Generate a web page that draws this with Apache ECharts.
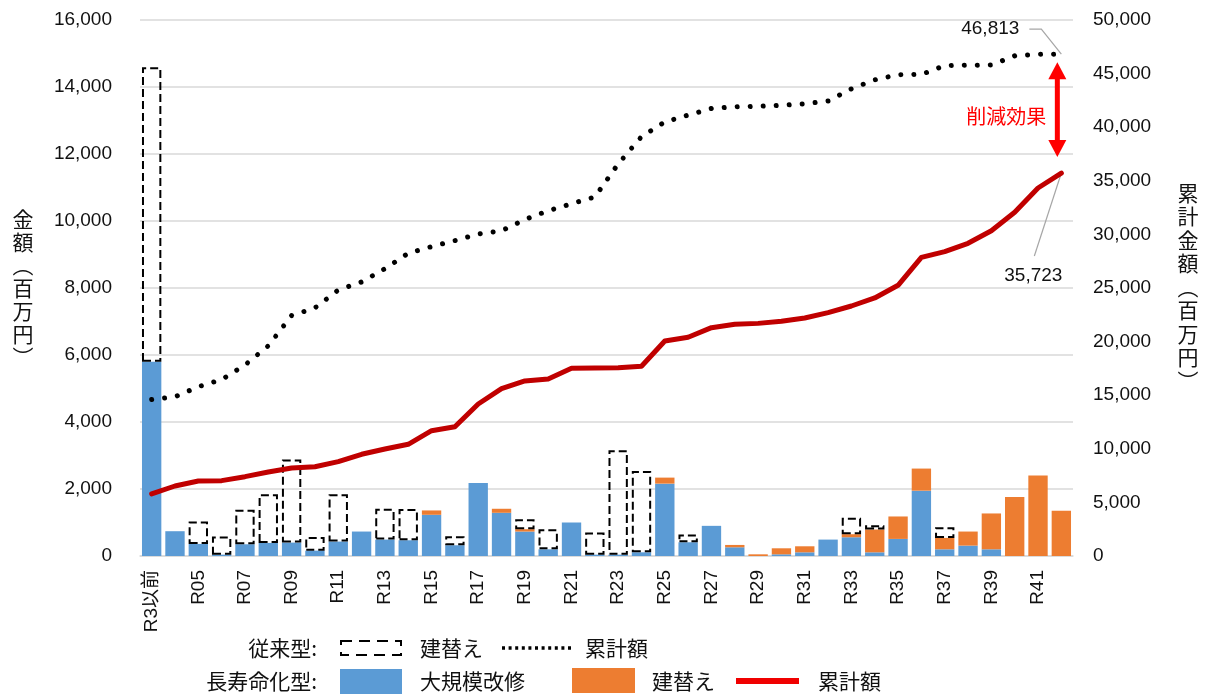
<!DOCTYPE html>
<html>
<head>
<meta charset="utf-8">
<title>施設更新費用の比較</title>
<script src="https://cdn.jsdelivr.net/npm/echarts@6/dist/echarts.min.js"></script>
<style>
  html, body { margin: 0; padding: 0; background: #ffffff; }
  #chart { width: 1209px; height: 695px; }
</style>
</head>
<body>
<div id="chart"></div>
<script>
// 年度区分
const categories = [
  'R3以前', 'R04', 'R05', 'R06', 'R07', 'R08', 'R09', 'R10', 'R11', 'R12',
  'R13', 'R14', 'R15', 'R16', 'R17', 'R18', 'R19', 'R20', 'R21', 'R22',
  'R23', 'R24', 'R25', 'R26', 'R27', 'R28', 'R29', 'R30', 'R31', 'R32',
  'R33', 'R34', 'R35', 'R36', 'R37', 'R38', 'R39', 'R40', 'R41', 'R42'
];

// 長寿命化型：大規模改修（百万円）
const renovation = [
  5800, 740, 360, 40, 350, 390, 400, 160, 430, 730,
  490, 470, 1230, 320, 2180, 1290, 730, 200, 1000, 40,
  40, 110, 2160, 410, 900, 260, 0, 50, 110, 490,
  560, 110, 510, 1950, 200, 310, 200, 0, 0, 0
];

// 長寿命化型：建替え（百万円）
const rebuildLongLife = [
  0, 0, 0, 0, 0, 0, 0, 0, 0, 0,
  0, 0, 130, 0, 0, 120, 70, 0, 0, 0,
  0, 0, 180, 0, 0, 70, 50, 180, 180, 0,
  90, 680, 670, 660, 340, 420, 1070, 1760, 2400, 1350
];

// 従来型：建替え（百万円、積み上げの最上段）
const rebuildConventional = [
  8790, null, 670, 540, 1030, 1450, 2480, 410, 1410, null,
  920, 930, null, 270, null, null, 300, 600, null, 660,
  3120, 2430, null, 230, null, null, null, null, null, null,
  490, 130, null, null, 320, null, null, null, null, null
];

// 従来型：累計額（百万円）
const cumulativeConventional = [
  14600, 14850, 15790, 16460, 17810, 19610, 22430, 23140, 24810, 25560,
  26800, 28250, 28860, 29420, 30040, 30340, 31390, 32210, 32860, 33490,
  36570, 39120, 40490, 41130, 41750, 41900, 41950, 42040, 42180, 42440,
  43580, 44420, 44900, 44920, 45740, 45780, 45800, 46650, 46800, 46813
];

// 長寿命化型：累計額（百万円）
const cumulativeLongLife = [
  5790, 6530, 7000, 7030, 7400, 7830, 8210, 8330, 8800, 9490,
  9980, 10420, 11690, 12060, 14180, 15610, 16330, 16510, 17510, 17540,
  17570, 17700, 20050, 20400, 21300, 21610, 21700, 21890, 22200, 22700,
  23320, 24070, 25250, 27860, 28390, 29170, 30340, 32060, 34330, 35723
];

// 軸目盛り
const amountTicks = { min: 0, max: 16000, step: 2000 };
const cumulativeTicks = { min: 0, max: 50000, step: 5000 };

const BLUE = '#5B9BD5';
const ORANGE = '#ED7D31';
const DARK_RED = '#C00000';
const FONT = "'Liberation Sans', Arial, 'Noto Sans CJK JP', sans-serif";
const JP_FONT = "'Noto Sans CJK JP', 'Liberation Sans', sans-serif";

const fmt = v => Number(v).toLocaleString('en-US');

const chart = echarts.init(document.getElementById('chart'), null, { renderer: 'canvas' });

chart.setOption({
  animation: false,
  backgroundColor: '#ffffff',
  textStyle: { fontFamily: FONT },
  grid: { left: 140, right: 136, top: 20, bottom: 139, containLabel: false },
  xAxis: {
    type: 'category',
    data: categories,
    axisTick: { show: false },
    axisLine: { show: true, lineStyle: { color: '#D9D9D9', width: 1.5 } },
    axisLabel: {
      interval: 1,
      rotate: 90,
      margin: 14,
      fontSize: 19,
      color: '#111111',
      fontFamily: FONT
    }
  },
  yAxis: [
    {
      type: 'value',
      min: amountTicks.min,
      max: amountTicks.max,
      interval: amountTicks.step,
      axisLine: { show: false },
      axisTick: { show: false },
      splitLine: { show: true, lineStyle: { color: '#D9D9D9', width: 1.5 } },
      axisLabel: { fontSize: 19, color: '#111111', margin: 28, formatter: fmt, fontFamily: FONT }
    },
    {
      type: 'value',
      min: cumulativeTicks.min,
      max: cumulativeTicks.max,
      interval: cumulativeTicks.step,
      axisLine: { show: false },
      axisTick: { show: false },
      splitLine: { show: false },
      axisLabel: { fontSize: 19, color: '#111111', margin: 20, formatter: fmt, fontFamily: FONT }
    }
  ],
  series: [
    {
      name: '長寿命化型 大規模改修',
      type: 'bar',
      stack: 'cost',
      barCategoryGap: '17%',
      data: renovation,
      itemStyle: { color: BLUE },
      z: 2
    },
    {
      name: '長寿命化型 建替え',
      type: 'bar',
      stack: 'cost',
      barCategoryGap: '17%',
      data: rebuildLongLife,
      itemStyle: { color: ORANGE },
      z: 2
    },
    {
      name: '従来型 建替え',
      type: 'bar',
      stack: 'cost',
      barCategoryGap: '17%',
      data: rebuildConventional,
      itemStyle: {
        color: 'rgba(0,0,0,0)',
        borderColor: '#000000',
        borderWidth: 2,
        borderType: [8, 4]
      },
      z: 3
    },
    {
      name: '従来型 累計額',
      type: 'line',
      yAxisIndex: 1,
      data: cumulativeConventional,
      symbol: 'none',
      lineStyle: { color: '#000000', width: 5, type: [0.01, 13], cap: 'round' },
      z: 4
    },
    {
      name: '長寿命化型 累計額',
      type: 'line',
      yAxisIndex: 1,
      data: cumulativeLongLife,
      symbol: 'none',
      lineStyle: { color: DARK_RED, width: 5, join: 'round', cap: 'round' },
      z: 5
    }
  ]
});

// 注記・凡例・軸タイトル
function drawOverlay() {
  const last = categories.length - 1;
  const pConv = chart.convertToPixel({ xAxisIndex: 0, yAxisIndex: 1 }, [last, cumulativeConventional[last]]);
  const pLong = chart.convertToPixel({ xAxisIndex: 0, yAxisIndex: 1 }, [last, cumulativeLongLife[last]]);
  const arrowX = pConv[0] - 4;
  const topTip = pConv[1] + 8;
  const bottomTip = pLong[1] - 16;
  const headH = 17, headW = 9;
  const gray = '#A6A6A6';

  const textEl = (x, y, text, opts) => ({
    type: 'text',
    x, y,
    silent: true,
    style: Object.assign({
      text,
      fill: '#111111',
      font: '21px ' + JP_FONT,
      align: 'left',
      verticalAlign: 'middle'
    }, opts || {})
  });

  const elements = [
    // 軸タイトル（縦書き）
    textEl(23, 288, '金\n額\n︵\n百\n万\n円\n︶', { align: 'center', font: '21px ' + JP_FONT, lineHeight: 23 }),
    textEl(1188, 287, '累\n計\n金\n額\n︵\n百\n万\n円\n︶', { align: 'center', font: '21px ' + JP_FONT, lineHeight: 23.5 }),

    // 最終年度の累計額ラベル
    textEl(pConv[0] - 42, pConv[1] - 25, fmt(cumulativeConventional[last]), { align: 'right', font: '19px ' + FONT }),
    {
      type: 'polyline', silent: true,
      shape: { points: [[pConv[0] - 32, pConv[1] - 25], [pConv[0] - 20, pConv[1] - 25], [pConv[0], pConv[1]]] },
      style: { stroke: gray, lineWidth: 1.2, fill: null }
    },
    textEl(pLong[0] - 28, pLong[1] + 103, fmt(cumulativeLongLife[last]), { align: 'center', font: '19px ' + FONT }),
    {
      type: 'line', silent: true,
      shape: { x1: pLong[0] - 27, y1: pLong[1] + 83, x2: pLong[0], y2: pLong[1] },
      style: { stroke: gray, lineWidth: 1.2 }
    },

    // 削減効果の矢印
    {
      type: 'line', silent: true,
      shape: { x1: arrowX, y1: topTip + headH - 2, x2: arrowX, y2: bottomTip - headH + 2 },
      style: { stroke: '#FF0000', lineWidth: 5 }
    },
    {
      type: 'polygon', silent: true,
      shape: { points: [[arrowX, topTip], [arrowX - headW, topTip + headH], [arrowX + headW, topTip + headH]] },
      style: { fill: '#FF0000' }
    },
    {
      type: 'polygon', silent: true,
      shape: { points: [[arrowX, bottomTip], [arrowX - headW, bottomTip - headH], [arrowX + headW, bottomTip - headH]] },
      style: { fill: '#FF0000' }
    },
    textEl(arrowX - 11, (pConv[1] + pLong[1]) / 2 + 3, '削減効果', { align: 'right', fill: '#FF0000', font: '20px ' + JP_FONT }),

    // 凡例 1段目：従来型
    textEl(317, 648, '従来型:', { align: 'right' }),
    {
      type: 'rect', silent: true,
      shape: { x: 341, y: 641, width: 60, height: 14 },
      style: { fill: 'rgba(0,0,0,0)', stroke: '#000000', lineWidth: 2, lineDash: [11, 7] }
    },
    textEl(420, 648, '建替え'),
    {
      type: 'line', silent: true,
      shape: { x1: 502, y1: 648, x2: 572, y2: 648 },
      style: { stroke: '#000000', lineWidth: 3.5, lineDash: [3, 3.6] }
    },
    textEl(585, 648, '累計額'),

    // 凡例 2段目：長寿命化型
    textEl(317, 681, '長寿命化型:', { align: 'right' }),
    {
      type: 'rect', silent: true,
      shape: { x: 340, y: 669, width: 62, height: 25 },
      style: { fill: BLUE }
    },
    textEl(420, 681, '大規模改修'),
    {
      type: 'rect', silent: true,
      shape: { x: 572, y: 668, width: 63, height: 25 },
      style: { fill: ORANGE }
    },
    textEl(652, 681, '建替え'),
    {
      type: 'line', silent: true,
      shape: { x1: 736, y1: 681, x2: 799, y2: 681 },
      style: { stroke: '#F00000', lineWidth: 6 }
    },
    textEl(818, 681, '累計額')
  ];

  chart.setOption({ graphic: { elements } });
}

drawOverlay();
</script>
</body>
</html>
